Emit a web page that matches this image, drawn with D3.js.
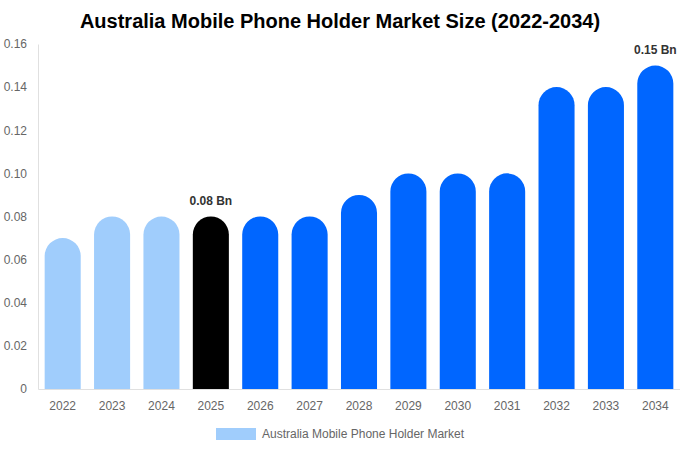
<!DOCTYPE html>
<html>
<head>
<meta charset="utf-8">
<script src="https://cdn.jsdelivr.net/npm/d3@7"></script>
<style>
  html, body { margin: 0; padding: 0; background: #fff; }
  svg { display: block; font-family: "Liberation Sans", Arial, sans-serif; }
</style>
</head>
<body>
<div id="chart"></div>
<script>
const years = ["2022", "2023", "2024", "2025", "2026", "2027", "2028", "2029", "2030", "2031", "2032", "2033", "2034"];
const values = [0.07, 0.08, 0.08, 0.08, 0.08, 0.08, 0.09, 0.10, 0.10, 0.10, 0.14, 0.14, 0.15];
const yTicks = [0, 0.02, 0.04, 0.06, 0.08, 0.10, 0.12, 0.14, 0.16];
const labelled = { "2025": "0.08 Bn", "2034": "0.15 Bn" };

const width = 680, height = 450;
const margin = { top: 44, right: 0, bottom: 61, left: 38 };

const svg = d3.select("#chart").append("svg")
  .attr("width", width)
  .attr("height", height);

svg.append("text")
  .attr("x", width / 2)
  .attr("y", 28)
  .attr("text-anchor", "middle")
  .attr("font-size", 20)
  .attr("font-weight", "bold")
  .attr("fill", "#000")
  .text("Australia Mobile Phone Holder Market Size (2022-2034)");

const x = d3.scaleBand()
  .domain(years)
  .range([margin.left, width - margin.right])
  .paddingInner(0.27)
  .paddingOuter(0.135);

const y = d3.scaleLinear()
  .domain([0, 0.16])
  .range([height - margin.bottom, margin.top]);

const colorFor = (yr) => +yr < 2025 ? "#a0cdfc" : (+yr === 2025 ? "#000000" : "#0066ff");

// y axis
const yAxis = svg.append("g")
  .attr("transform", `translate(${margin.left},0)`)
  .call(d3.axisLeft(y).tickValues(yTicks).tickSize(0).tickPadding(11)
    .tickFormat(d => d === 0 ? "0" : d.toFixed(2)));
yAxis.select(".domain").attr("stroke", "#e0e0e0");
yAxis.selectAll("text").attr("font-size", 12).attr("fill", "#666")
  .attr("font-family", "Liberation Sans, Arial, sans-serif");

// x axis
const xAxis = svg.append("g")
  .attr("transform", `translate(0,${height - margin.bottom})`)
  .call(d3.axisBottom(x).tickSize(0).tickPadding(12));
xAxis.select(".domain").attr("stroke", "#e0e0e0");
xAxis.selectAll("text").attr("font-size", 12).attr("fill", "#666")
  .attr("font-family", "Liberation Sans, Arial, sans-serif");

// bars with rounded tops
const bw = x.bandwidth();
const r = bw / 2;
function barPath(yr, v) {
  const x0 = x(yr), x1 = x0 + bw;
  const yb = y(0), yt = y(v);
  return `M${x0},${yb} L${x0},${yt + r} A${r},${r} 0 0 1 ${x1},${yt + r} L${x1},${yb} Z`;
}

svg.append("g").selectAll("path")
  .data(years.map((yr, i) => ({ yr, v: values[i] })))
  .join("path")
  .attr("d", d => barPath(d.yr, d.v))
  .attr("fill", d => colorFor(d.yr));

svg.append("g").selectAll("text")
  .data(years.map((yr, i) => ({ yr, v: values[i] })).filter(d => labelled[d.yr]))
  .join("text")
  .attr("x", d => x(d.yr) + bw / 2)
  .attr("y", d => y(d.v) - 12)
  .attr("text-anchor", "middle")
  .attr("font-size", 12)
  .attr("font-weight", "bold")
  .attr("fill", "#333")
  .text(d => labelled[d.yr]);

// legend
const legend = svg.append("g");
legend.append("rect")
  .attr("x", 216).attr("y", 428)
  .attr("width", 40).attr("height", 12)
  .attr("fill", "#a0cdfc");
legend.append("text")
  .attr("x", 262).attr("y", 437.5)
  .attr("font-size", 12)
  .attr("fill", "#666")
  .text("Australia Mobile Phone Holder Market");
</script>
</body>
</html>
